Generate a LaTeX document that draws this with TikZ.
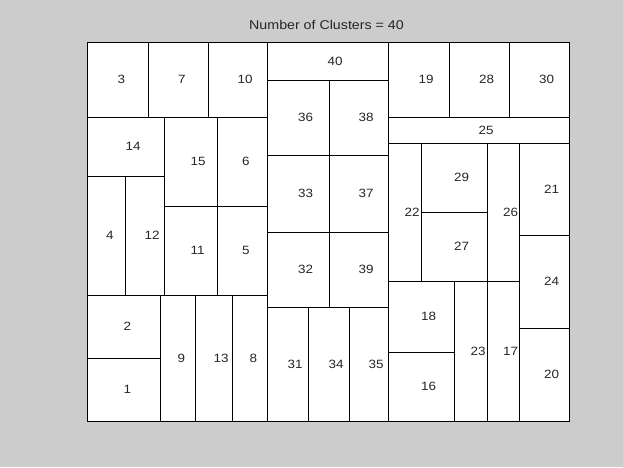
\documentclass[tikz,border=0pt]{standalone}
\usepackage{fontspec}
\setmainfont{Liberation Sans}[FakeStretch=1.12]
\tikzset{
  cellbox/.style={draw=black, fill=white, line width=0.9pt},
  lbl/.style={anchor=west, inner sep=0pt, font=\fontsize{12}{14}\selectfont, text=black!85},
}
\newcommand\cell[5]{%
  \draw[cellbox] (#1,#2) rectangle (#3,#4);
  \node[lbl] (c#5) at ({(#1+#3)/2},{(#2+#4)/2}) {#5};}
\begin{document}
\begin{tikzpicture}[x=1pt,y=-1pt]
\fill[fill={rgb,255:red,204;green,204;blue,204}] (0,0) rectangle (623,467);
\useasboundingbox (0,0) rectangle (623,467);
\node[anchor=center, inner sep=0pt, font=\fontsize{12.7}{14}\selectfont, text=black!85] (title) at (326.5,24.5) {Number of Clusters = 40};
\cell{87}{358}{160}{421}{1}
\cell{87}{295}{160}{358}{2}
\cell{87}{42}{148}{117}{3}
\cell{87}{176}{125}{295}{4}
\cell{217}{206}{267}{295}{5}
\cell{217}{117}{267}{206}{6}
\cell{148}{42}{208}{117}{7}
\cell{232}{295}{267}{421}{8}
\cell{160}{295}{195}{421}{9}
\cell{208}{42}{267}{117}{10}
\cell{164}{206}{217}{295}{11}
\cell{125}{176}{164}{295}{12}
\cell{195}{295}{232}{421}{13}
\cell{87}{117}{164}{176}{14}
\cell{164}{117}{217}{206}{15}
\cell{388}{352}{454}{421}{16}
\cell{487}{281}{519}{421}{17}
\cell{388}{281}{454}{352}{18}
\cell{388}{42}{449}{117}{19}
\cell{519}{328}{569}{421}{20}
\cell{519}{143}{569}{235}{21}
\cell{388}{143}{421}{281}{22}
\cell{454}{281}{487}{421}{23}
\cell{519}{235}{569}{328}{24}
\cell{388}{117}{569}{143}{25}
\cell{487}{143}{519}{281}{26}
\cell{421}{212}{487}{281}{27}
\cell{449}{42}{509}{117}{28}
\cell{421}{143}{487}{212}{29}
\cell{509}{42}{569}{117}{30}
\cell{267}{307}{308}{421}{31}
\cell{267}{232}{329}{307}{32}
\cell{267}{155}{329}{232}{33}
\cell{308}{307}{349}{421}{34}
\cell{349}{307}{388}{421}{35}
\cell{267}{80}{329}{155}{36}
\cell{329}{155}{388}{232}{37}
\cell{329}{80}{388}{155}{38}
\cell{329}{232}{388}{307}{39}
\cell{267}{42}{388}{80}{40}
\end{tikzpicture}
\end{document}
